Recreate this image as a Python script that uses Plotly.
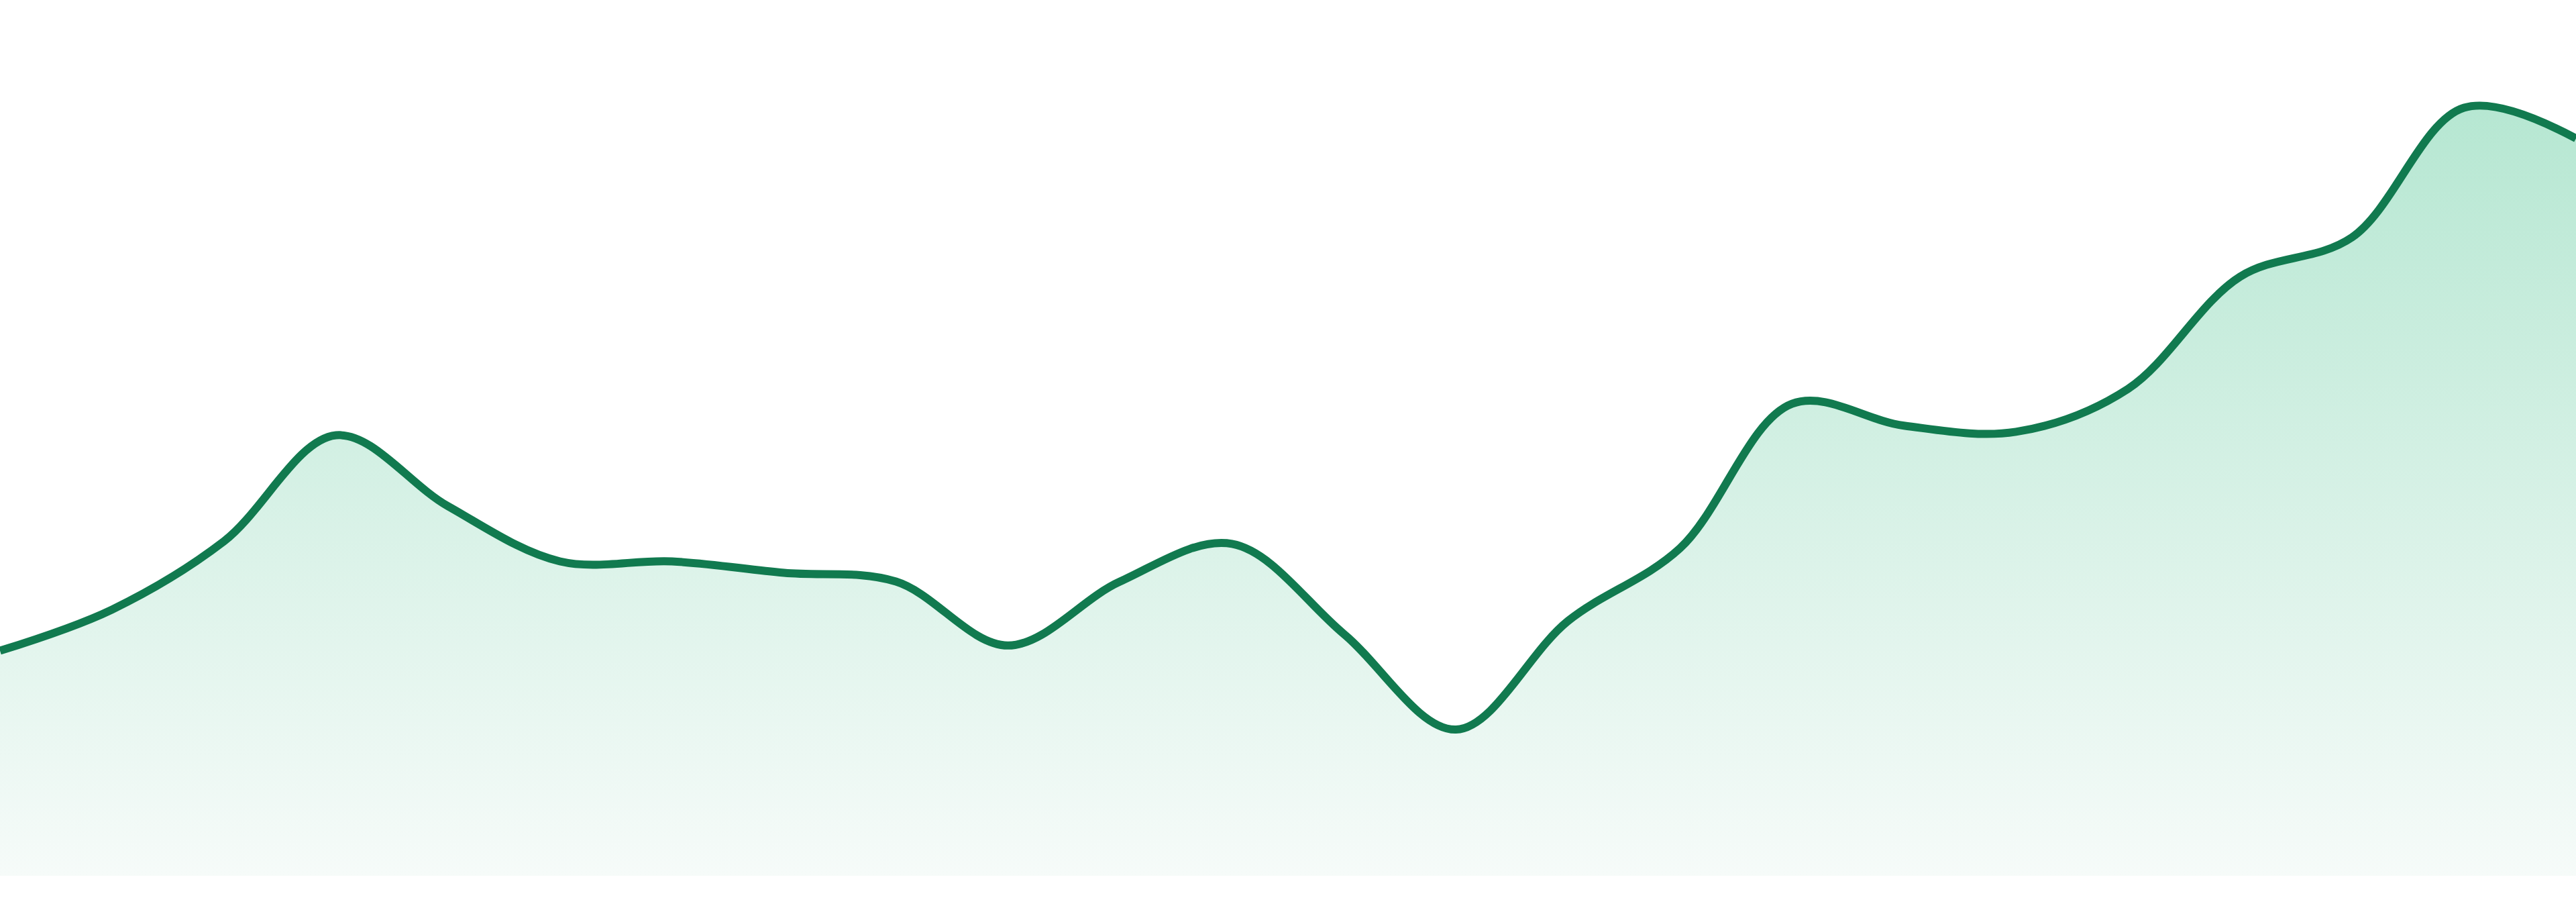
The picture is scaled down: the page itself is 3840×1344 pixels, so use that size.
import plotly.graph_objects as go

# Data (24 evenly spaced points, no visible axes)
positions = list(range(24))
values = [25.7, 30.4, 38.2, 50.3, 42.2, 35.9, 35.9, 34.6, 33.6, 26.3, 33.6, 37.9,
          27.6, 16.7, 29.1, 37.4, 53.9, 51.4, 50.7, 55.6, 68.4, 72.9, 87.7, 84.2]

line_color = "#117a4f"
fill_top = "#b6e7d2"
fill_bottom = "#f6fbf9"

fig = go.Figure()
fig.add_trace(go.Scatter(
    x=positions,
    y=values,
    mode="lines",
    line=dict(color=line_color, width=12, shape="spline", smoothing=1),
    fill="tozeroy",
    fillgradient=dict(
        type="vertical",
        colorscale=[[0, fill_bottom], [1, fill_top]],
        start=0,
        stop=max(values),
    ),
    hoverinfo="skip",
    showlegend=False,
))

fig.update_layout(
    width=3840,
    height=1344,
    margin=dict(l=0, r=0, t=0, b=39),
    paper_bgcolor="white",
    plot_bgcolor="white",
    xaxis=dict(range=[0, 23], visible=False, fixedrange=True),
    yaxis=dict(range=[0, 100], visible=False, fixedrange=True),
    showlegend=False,
)

fig.write_html(
    "out.html",
    config={"displayModeBar": False},
    post_script="document.body.style.margin='0px';document.body.style.overflow='hidden';",
)
